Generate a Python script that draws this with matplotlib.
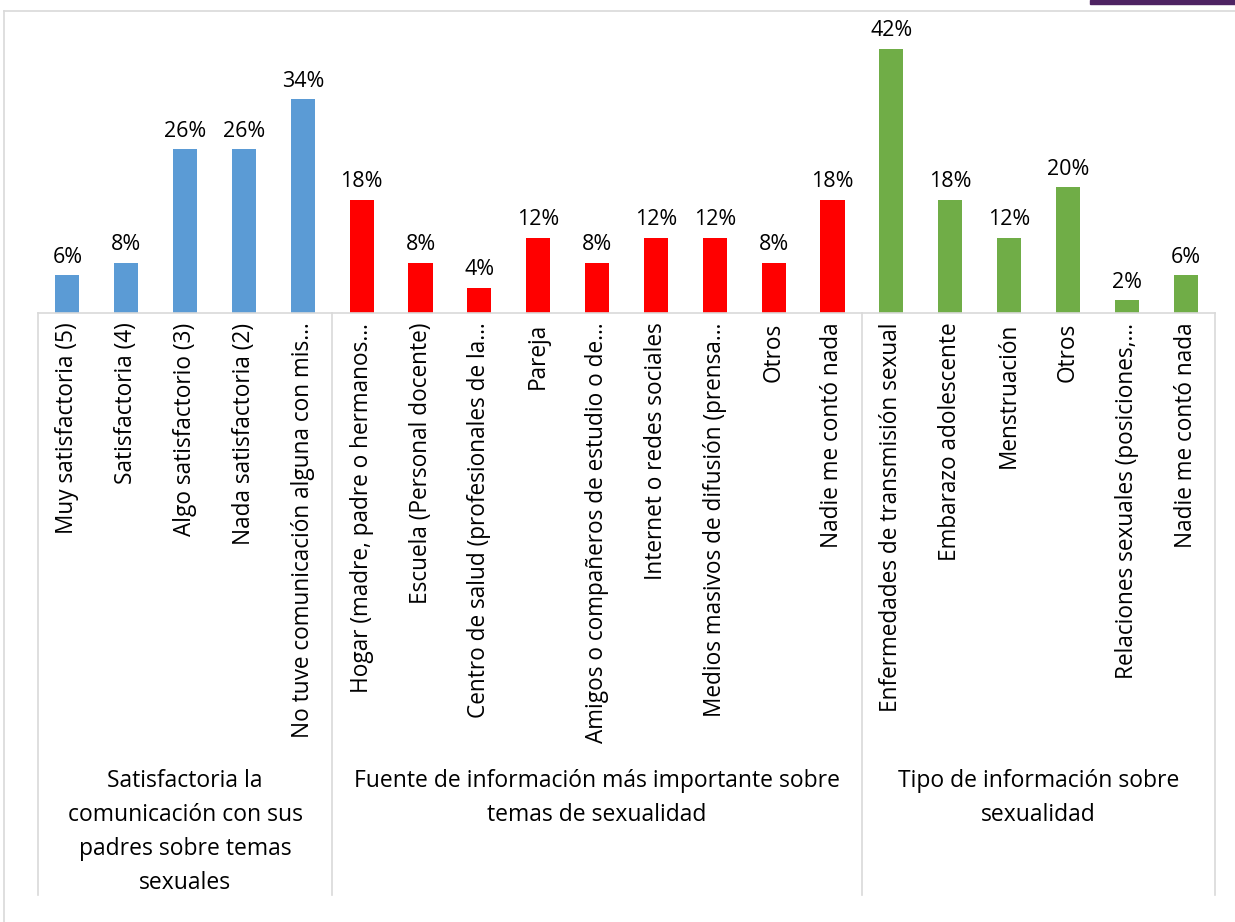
import matplotlib
matplotlib.use("Agg")
import matplotlib.pyplot as plt
from matplotlib.lines import Line2D
from matplotlib.patches import Rectangle
import matplotlib.transforms as mtransforms

plt.rcParams['font.family'] = ['Open Sans', 'DejaVu Sans']

# datos
etiquetas = ["Muy satisfactoria (5)", "Satisfactoria (4)", "Algo satisfactorio (3)",
             "Nada satisfactoria (2)", "No tuve comunicación alguna con mis…",
             "Hogar (madre, padre o hermanos…", "Escuela (Personal docente)",
             "Centro de salud (profesionales de la…", "Pareja",
             "Amigos o compañeros de estudio o de…", "Internet o redes sociales",
             "Medios masivos de difusión (prensa…", "Otros", "Nadie me contó nada",
             "Enfermedades de transmisión sexual", "Embarazo adolescente",
             "Menstruación", "Otros", "Relaciones sexuales (posiciones,…",
             "Nadie me contó nada"]
valores_satisf = [6, 8, 26, 26, 34]
valores_fuente = [18, 8, 4, 12, 8, 12, 12, 8, 18]
valores_tipo = [42, 18, 12, 20, 2, 6]
grupos = ["Satisfactoria la\ncomunicación con sus\npadres sobre temas\nsexuales",
          "Fuente de información más importante sobre\ntemas de sexualidad",
          "Tipo de información sobre\nsexualidad"]
colores = ["#5B9BD5", "#FF0000", "#70AD47"]

W, H = 1235, 922
fig = plt.figure(figsize=(W / 100, H / 100), dpi=100)

# marco
fig.add_artist(Line2D([4 / W, 4 / W], [0, 1 - 11 / H], color="#D9D9D9", lw=1.2))
fig.add_artist(Line2D([4 / W, 1], [1 - 11 / H, 1 - 11 / H], color="#D9D9D9", lw=1.2))
fig.add_artist(Rectangle((1090 / W, 1 - 4 / H), 145 / W, 4 / H, color="#4E2362",
                         transform=fig.transFigure))

base = 313
top = 30
ax = fig.add_axes([38 / W, 1 - base / H, (1215 - 38) / W, (base - top) / H])

series = [valores_satisf, valores_fuente, valores_tipo]
x0 = 0
limites = [0]
for vals, col in zip(series, colores):
    xs = list(range(x0, x0 + len(vals)))
    ax.bar(xs, vals, width=0.41, color=col)
    for x, v in zip(xs, vals):
        ax.text(x, v + 1.2, f"{v}%", ha="center", va="bottom", fontsize=15.5)
    x0 += len(vals)
    limites.append(x0)

ax.set_xlim(-0.5, x0 - 0.5)
ax.set_ylim(0, 45)
ax.set_yticks([])
ax.set_xticks(range(len(etiquetas)))
ax.set_xticklabels(etiquetas, rotation=90, fontsize=16.3, va="top", ha="center")
ax.tick_params(axis="x", length=0, pad=7)
for s in ["top", "right", "left"]:
    ax.spines[s].set_visible(False)
ax.spines["bottom"].set_color("#D9D9D9")
ax.spines["bottom"].set_linewidth(1.2)

trans = mtransforms.blended_transform_factory(ax.transData, ax.transAxes)
yfin = -(895 - base) / (base - top)
for lim in limites:
    ax.plot([lim - 0.5, lim - 0.5], [0, yfin], color="#D9D9D9", lw=1.2,
            transform=trans, clip_on=False)

ytxt = -(769 - base) / (base - top)
for i, g in enumerate(grupos):
    xc = (limites[i] + limites[i + 1] - 1) / 2
    ax.text(xc, ytxt, g, ha="center", va="top", fontsize=16.5, linespacing=1.56,
            transform=trans)

fig.savefig("out.png", dpi=100)
